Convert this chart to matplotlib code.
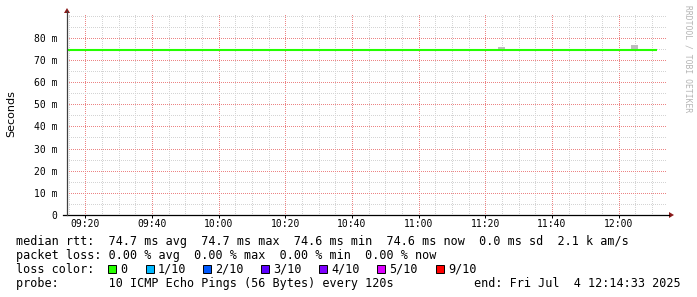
import matplotlib
matplotlib.use("Agg")
import matplotlib.pyplot as plt
import matplotlib.dates as mdates
from matplotlib.lines import Line2D
from matplotlib.patches import Polygon, Rectangle
from matplotlib.ticker import MultipleLocator, FuncFormatter
import pandas as pd

# ── data ───────────────────────────────────────────────────────────────────
day = "2025-07-04 "
t_start, t_end = "09:14:33", "12:14:33"
rtt_times = ["09:14:33", "09:24", "09:34", "09:44", "09:54", "10:04", "10:14",
             "10:24", "10:34", "10:44", "10:54", "11:04", "11:14", "11:24",
             "11:34", "11:44", "11:54", "12:04", "12:11:33"]
rtt_ms = [74.7, 74.7, 74.7, 74.7, 74.7, 74.7, 74.7, 74.7, 74.7, 74.7,
          74.7, 74.7, 74.6, 74.7, 74.7, 74.7, 74.7, 74.6, 74.6]
smoke_times = ["11:23:50", "12:03:45"]
smoke_lo = [74.6, 74.6]
smoke_hi = [75.8, 76.7]
yticks = [0, 10, 20, 30, 40, 50, 60, 70, 80]

loss_labels = ["0", "1/10", "2/10", "3/10", "4/10", "5/10", "9/10"]
loss_colors = ["#26ff00", "#00b8ff", "#0059ff", "#5e00ff", "#7e00ff", "#dd00ff", "#ff0000"]

legend_lines = [
    "median rtt:  74.7 ms avg  74.7 ms max  74.6 ms min  74.6 ms now  0.0 ms sd  2.1 k am/s",
    "packet loss: 0.00 % avg  0.00 % max  0.00 % min  0.00 % now",
    "loss color:",
    "probe:       10 ICMP Echo Pings (56 Bytes) every 120s",
]
end_text = "end: Fri Jul  4 12:14:33 2025"

# ── figure ─────────────────────────────────────────────────────────────────
W, H = 697, 297
fig = plt.figure(figsize=(W / 100, H / 100), dpi=100)
MONO = "DejaVu Sans Mono"


def px(x, y):
    """top-left pixel coords -> figure fraction"""
    return x / W, 1 - y / H


L, T, R, B = 67, 13, 667, 215
ax = fig.add_axes([L / W, 1 - B / H, (R - L) / W, (B - T) / H])

ts = lambda s: pd.Timestamp(day + s)
x0, x1 = ts(t_start), ts(t_end)

sx = [ts(s) for s in smoke_times]
ax.bar(sx, [h - l for h, l in zip(smoke_hi, smoke_lo)], bottom=smoke_lo,
       width=2 / 1440, align="edge", color="#bdbdbd", lw=0, zorder=2)
ax.plot([ts(s) for s in rtt_times], rtt_ms, color="#26ff00", lw=1.5,
        drawstyle="steps-post", solid_capstyle="butt", zorder=3)

ax.set_xlim(x0, x1)
ax.set_ylim(0, 91.2)
ax.xaxis.set_major_locator(mdates.MinuteLocator(byminute=[0, 20, 40]))
ax.xaxis.set_minor_locator(mdates.MinuteLocator(byminute=[5, 10, 15, 25, 30, 35, 45, 50, 55]))
ax.xaxis.set_major_formatter(mdates.DateFormatter("%H:%M"))
ax.set_yticks(yticks)
ax.yaxis.set_minor_locator(MultipleLocator(5))
ax.yaxis.set_major_formatter(FuncFormatter(lambda v, p: "0" if v == 0 else f"{v:.0f} m"))

# rrdtool-style 1px dotted grid, no antialiasing (1px dashes collapse to solid otherwise)
ax.grid(which="minor", color="#d4d4d4", linestyle=":", lw=0.72, antialiased=False, zorder=0)
ax.grid(which="major", color="#ec8484", linestyle=":", lw=0.72, antialiased=False, zorder=1)
ax.set_axisbelow(True)
for s in ax.spines.values():
    s.set_visible(False)
ax.tick_params(axis="x", which="major", length=1.8, width=0.72, pad=1,
               labelsize=7, color="#000000")
ax.tick_params(axis="x", which="minor", length=0)
ax.tick_params(axis="y", which="both", length=0, pad=7, labelsize=7)
for lab in ax.get_xticklabels() + ax.get_yticklabels():
    lab.set_family(MONO)

# axes lines + arrows
fig.add_artist(Line2D([px(63, B)[0], px(669, B)[0]], [px(0, B)[1]] * 2,
                      color="black", lw=0.9))
fig.add_artist(Line2D([px(L, 0)[0]] * 2, [px(0, B)[1], px(0, 11)[1]],
                      color="#404040", lw=0.9))
fig.add_artist(Polygon([px(L - 3, 13), px(L + 3, 13), px(L, 8)], closed=True,
                       color="#8b1a1a", lw=0))
fig.add_artist(Polygon([px(669, B - 3), px(669, B + 3), px(674, B)], closed=True,
                       color="#8b1a1a", lw=0))

fig.text(*px(11, 114), "Seconds", rotation=90, ha="center", va="center",
         fontsize=8, family="DejaVu Sans")
fig.text(*px(688, 5), "RRDTOOL / TOBI OETIKER", rotation=270, ha="center",
         va="top", fontsize=5.8, family=MONO, color="#b4b4b4")

# legend block
for i, line in enumerate(legend_lines):
    fig.text(*px(16, 245 + 14 * i), line, ha="left", va="baseline",
             fontsize=8.5, family=MONO)
fig.text(*px(681, 287), end_text, ha="right", va="baseline", fontsize=8.5, family=MONO)

box_x = [108, 146, 203, 261, 319, 377, 436]
for bx, lab, col in zip(box_x, loss_labels, loss_colors):
    x_, y_ = px(bx, 273)
    fig.add_artist(Rectangle((x_, y_), 8 / W, 8 / H, facecolor=col,
                             edgecolor="black", lw=0.7))
    fig.text(*px(bx + 12, 273), lab, ha="left", va="baseline", fontsize=8.5, family=MONO)

fig.savefig("out.png", dpi=100, facecolor="white")
